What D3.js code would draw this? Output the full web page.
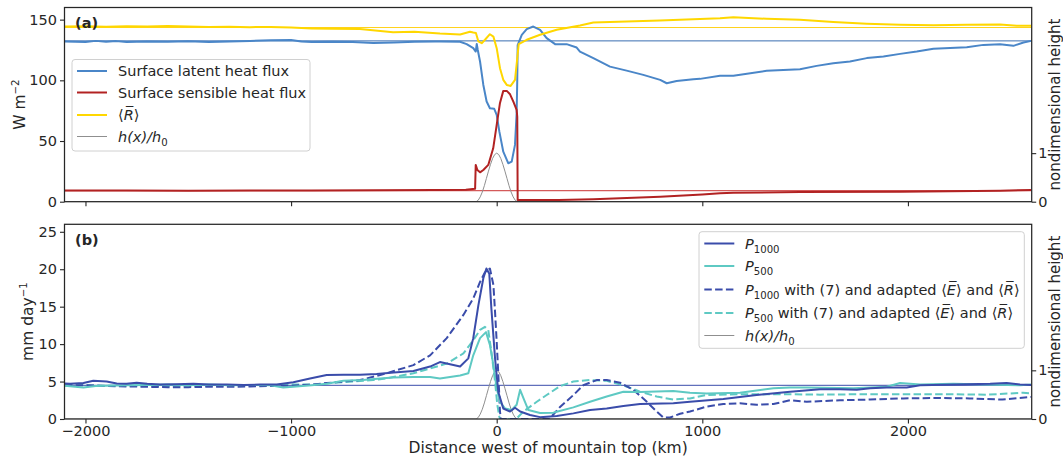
<!DOCTYPE html>
<html><head><meta charset="utf-8">
<script src="https://cdn.jsdelivr.net/npm/d3@7"></script>
<style>
body{margin:0;background:#fff}
svg{display:block}
text{font-family:"DejaVu Sans",sans-serif;fill:#262626}
</style>
</head><body>
<svg id="c" width="1063" height="459"></svg>
<script>
// ---------------- DATA ----------------
const xTicks = [-2000, -1000, 0, 1000, 2000];
const yTicksA = [0, 50, 100, 150];
const yTicksB = [0, 5, 10, 15, 20, 25];
const hTicks = [0, 1];

// panel (a)
const latentX = [-2100,-2000,-1950,-1900,-1850,-1800,-1700,-1600,-1500,-1400,-1300,-1200,-1100,-1000,-950,-900,-800,-700,-600,-500,-400,-300,-276,-178,-146,-114,-102,-97,-92,-81,-65,-49,-33,-12,0,13,32,56,73,89,97,100,102,122,146,178,211,243,284,340,389,405,470,551,632,713,795,827,875,956,989,1086,1151,1313,1475,1556,1637,1718,1800,1881,1962,2043,2124,2286,2367,2448,2513,2562,2600];
const latentY = [132,131.5,132.5,131.8,132.3,131.5,132,131.8,132.2,131.5,132,132.5,133,133.3,132,131.5,131.8,131.5,130.8,131.2,131.8,132,132,131.8,129.8,126.5,123.7,130,125,115.5,96.2,82.5,77,76.5,71.5,57.7,41.2,31.7,33,46.8,73,100,129,137.5,142.2,144.3,141.6,134.8,129.8,129.8,127,123.7,118.3,111.3,108,104.5,100.4,97.6,99.5,100.9,101.2,103.7,103.7,107.8,109.2,111.9,114.1,115.5,118.3,119.6,121.8,123.7,126,127.3,129.2,129.8,128.4,131.2,132.5];

const sensibleX = [-2100,-1800,-1500,-1200,-900,-600,-300,-150,-105,-102,-94,-81,-65,-41,-17,0,16,32,49,65,81,97,100,102,300,470,600,795,1000,1086,1151,1475,1962,2448,2600];
const sensibleY = [9.2,9.3,9.1,9.3,9.2,9.4,9.6,9.8,10.6,30.3,26.1,24.2,26.1,30.3,44,63.3,81.4,91.3,91.3,88.5,82.4,75.6,70,1.4,1.5,2,2.8,4.1,6,6.9,7.4,8,8.3,9.1,9.6];

const radX = [-2100,-2000,-1900,-1800,-1700,-1600,-1500,-1400,-1300,-1200,-1100,-1000,-900,-800,-665,-504,-400,-276,-178,-130,-114,-101,-89,-73,-57,-33,-16,0,16,32,49,68,89,100,107,146,211,292,405,470,632,794,956,1086,1151,1313,1475,1637,1800,1962,2124,2286,2448,2529,2600];
const radY = [144.3,144.5,144.2,144.6,144.4,144.8,144.3,144,144.2,143.8,144,143.5,142.8,142.5,142.2,139.7,140,138.5,137.8,140,139.4,139,132,130.6,133.4,138,136,126.5,110,100.4,96.2,95.4,100.4,118,129.8,133.4,137.5,141.6,145.2,147.6,148.5,149.3,150.4,151.2,152,150.7,149.9,148,146.6,145.7,145.4,145.7,145.9,144.9,145];

const hX = [-2100,-100,-90,-80,-70,-60,-50,-40,-30,-20,-10,0,10,20,30,40,50,60,70,80,90,100,2600];
const hY = [0,0,0.03,0.1,0.2,0.33,0.48,0.63,0.77,0.89,0.97,1,0.97,0.89,0.77,0.63,0.48,0.33,0.2,0.1,0.03,0,0];

const refA = {latent:132.5, sensible:9.1, rad:143.5};

// panel (b)
const p1000X = [-2100,-2075,-2010,-1962,-1897,-1848,-1800,-1751,-1700,-1637,-1560,-1475,-1400,-1313,-1230,-1151,-1070,-989,-908,-827,-746,-665,-584,-500,-405,-324,-276,-227,-178,-138,-114,-89,-65,-50,-36,-26,-8,8,32,65,89,114,162,211,243,292,373,454,535,616,697,859,940,1102,1264,1427,1573,1670,1751,1816,1897,1994,2059,2237,2400,2480,2545,2600];
const p1000Y = [4.75,4.7,4.8,5.1,5.0,4.75,4.7,4.85,4.7,4.6,4.65,4.7,4.6,4.6,4.55,4.6,4.6,4.9,5.4,5.87,5.9,5.9,6.0,6.2,6.4,7.0,7.6,7.3,7.0,8.1,10.8,15.2,18.8,20.1,19.4,14.8,8.1,3.6,1.4,1.0,1.5,1.0,0.53,0.25,0.3,0.4,0.75,1.2,1.4,1.73,2.0,2.1,2.3,2.67,3.2,3.65,3.96,3.96,3.9,4.1,4.2,4.2,4.5,4.6,4.7,4.8,4.6,4.55];

const p500X = [-2100,-2050,-2010,-1950,-1900,-1800,-1700,-1600,-1500,-1400,-1300,-1200,-1100,-1038,-990,-900,-827,-746,-650,-567,-503,-405,-324,-276,-178,-138,-114,-81,-52,-33,-16,0,16,41,73,97,114,130,154,211,276,292,373,454,535,616,697,859,940,1021,1183,1346,1427,1508,1735,1897,1962,2059,2221,2383,2545,2600];
const p500Y = [4.45,4.3,4.2,4.4,4.45,4.5,4.55,4.6,4.5,4.6,4.5,4.55,4.5,4.2,4.3,4.5,4.7,5.1,5.2,5.4,5.55,5.6,5.6,5.4,5.8,6.1,8.5,10.8,11.6,9.9,7.2,4.1,2.3,1.4,1.2,1.9,3.9,2.8,1.2,0.8,0.85,0.98,1.55,2.3,3.0,3.65,3.6,3.73,3.5,3.4,3.5,4.1,4.2,4.2,4.1,4.3,4.8,4.6,4.7,4.6,4.5,4.6];

const p1000dX = [-2100,-2000,-1900,-1800,-1700,-1600,-1500,-1400,-1300,-1200,-1100,-1000,-900,-827,-665,-567,-500,-405,-324,-243,-162,-114,-81,-57,-33,-16,-8,0,8,16,20,255,259,308,373,421,486,535,600,665,730,778,810,843,892,940,1021,1102,1183,1264,1346,1427,1508,1670,1816,1978,2140,2300,2460,2600];
const p1000dY = [4.5,4.5,4.4,4.35,4.3,4.25,4.25,4.3,4.3,4.35,4.4,4.45,4.6,4.8,5.2,5.87,6.4,7.2,8.5,10.8,13.9,16.1,18.3,19.6,20.1,17.9,14.3,10.3,5.9,1.0,0,0,0.1,1.6,3.2,4.5,5.2,5.2,4.85,3.9,2.3,1.0,0.2,0.2,0.7,1.0,1.65,2.0,2.1,1.9,2.0,2.5,2.3,2.5,2.6,2.75,2.8,2.75,2.6,2.95];

const p500dX = [-2100,-2000,-1900,-1800,-1700,-1600,-1500,-1400,-1300,-1200,-1100,-1000,-900,-827,-700,-600,-567,-503,-405,-324,-243,-162,-114,-81,-57,-41,-26,-8,3,13,16,95,97,130,195,243,308,373,454,535,616,697,778,859,940,1021,1183,1427,1573,1735,1913,2059,2221,2383,2560,2600];
const p500dY = [4.5,4.5,4.45,4.4,4.45,4.4,4.45,4.4,4.45,4.5,4.5,4.6,4.6,4.75,5.0,5.2,5.3,5.6,6.1,6.75,7.4,8.75,10.5,11.9,12.3,11.9,9.0,5.0,1.9,0.3,0,0,0.05,1.0,2.3,3.2,4.4,5.0,5.2,5.1,4.5,3.65,3.0,2.6,2.75,3.2,3.3,3.3,3.25,3.3,3.3,3.3,3.3,3.25,3.5,3.4];

const refB = 4.5;

// ---------------- LAYOUT ----------------
const L = 64.5, R = 1031.7;
const A = {top: 7.5, bot: 201.7};
const B = {top: 224.3, bot: 419};
const FS = 14.5;
const INK = "#262626";

const C = {
  latent: "#4a86c8", sensible: "#b22222", rad: "#ffd700", h: "#8f8f8f",
  p1000: "#3a4caa", p500: "#5ec9c3",
  refLatent: "#3a6db0", refSensible: "#d45a5a", refRad: "#ffd21a"
};

const svg = d3.select("#c");
const x = d3.scaleLinear().domain([-2102, 2602]).range([L, R]);
const yA = d3.scaleLinear().domain([0, 160]).range([A.bot, A.top]);
const hA = d3.scaleLinear().domain([0, 4]).range([A.bot, A.top]);
const yB = d3.scaleLinear().domain([0, 26]).range([B.bot, B.top]);
const hB = d3.scaleLinear().domain([0, 4]).range([B.bot, B.top]);
const fmt = d3.format("d");

const defs = svg.append("defs");
[["clipA", A], ["clipB", B]].forEach(([id, P]) => {
  defs.append("clipPath").attr("id", id).append("rect")
    .attr("x", L).attr("y", P.top).attr("width", R - L).attr("height", P.bot - P.top);
});

function series(g, xs, ys, ys_scale, color, width, dash) {
  const pts = xs.map((v, i) => [v, ys[i]]);
  const line = d3.line().x(d => x(d[0])).y(d => ys_scale(d[1]));
  const p = g.append("path").datum(pts).attr("d", line)
    .attr("fill", "none").attr("stroke", color).attr("stroke-width", width)
    .attr("stroke-linejoin", "round");
  if (dash) p.attr("stroke-dasharray", dash);
  return p;
}
function hline(g, v, scale, color, width) {
  g.append("line").attr("x1", L).attr("x2", R).attr("y1", scale(v)).attr("y2", scale(v))
    .attr("stroke", color).attr("stroke-width", width);
}

function rich(t, segs) {
  segs.forEach(s => {
    const ts = t.append("tspan").text(s.t);
    if (s.i) ts.attr("font-style", "italic");
    if (s.sub) { ts.attr("font-size", FS * 0.7).attr("dy", 4); }
    if (s.sup) { ts.attr("font-size", FS * 0.7).attr("dy", -6); }
    if (s.back) ts.attr("dy", s.back);
  });
}

function styleAxis(g) {
  g.select(".domain").remove();
  g.selectAll(".tick line").attr("stroke", INK).attr("stroke-width", 1.1);
  g.selectAll(".tick text").attr("fill", INK).attr("font-size", FS)
    .attr("font-family", "DejaVu Sans");
}

// ---------------- PANEL A ----------------
const gA = svg.append("g");
const cA = gA.append("g").attr("clip-path", "url(#clipA)");
hline(cA, refA.rad, yA, C.refRad, 1);
hline(cA, refA.latent, yA, C.refLatent, 1);
hline(cA, refA.sensible, yA, C.refSensible, 1.2);
series(cA, hX, hY, hA, C.h, 1);
series(cA, latentX, latentY, yA, C.latent, 2);
series(cA, sensibleX, sensibleY, yA, C.sensible, 2);
series(cA, radX, radY, yA, C.rad, 2);

gA.append("g").attr("transform", `translate(${L},0)`)
  .call(d3.axisLeft(yA).tickValues(yTicksA).tickFormat(fmt).tickSize(4.5).tickPadding(3)).call(styleAxis);
gA.append("g").attr("transform", `translate(${R},0)`)
  .call(d3.axisRight(hA).tickValues(hTicks).tickFormat(fmt).tickSize(4.5).tickPadding(2)).call(styleAxis);
gA.append("g").attr("transform", `translate(0,${A.bot})`)
  .call(d3.axisBottom(x).tickValues(xTicks).tickSize(4.5).tickFormat("")).call(styleAxis);
gA.append("rect").attr("x", L).attr("y", A.top).attr("width", R - L).attr("height", A.bot - A.top)
  .attr("fill", "none").attr("stroke", INK).attr("stroke-width", 1.25);

gA.append("text").attr("x", 75).attr("y", 27.5).attr("font-weight", "bold").attr("font-size", FS).text("(a)");

// legend A
const legA = gA.append("g");
legA.append("rect").attr("x", 72).attr("y", 59.5).attr("width", 238).attr("height", 91.5)
  .attr("rx", 3).attr("fill", "#fff").attr("fill-opacity", 0.85).attr("stroke", "#d0d0d0");
const legAItems = [
  {c: C.latent, w: 2, segs: [{t: "Surface latent heat flux"}]},
  {c: C.sensible, w: 2, segs: [{t: "Surface sensible heat flux"}]},
  {c: C.rad, w: 2, segs: [{t: "⟨"}, {t: "R\u0305", i: true}, {t: "⟩"}]},
  {c: C.h, w: 1, segs: [{t: "h(x)/h", i: true}, {t: "0", sub: true}]}
];
const legAY = [71, 92.5, 115, 136.5];
legAItems.forEach((it, i) => {
  const yy = legAY[i];
  legA.append("line").attr("x1", 77).attr("x2", 107).attr("y1", yy).attr("y2", yy)
    .attr("stroke", it.c).attr("stroke-width", it.w);
  const t = legA.append("text").attr("x", 118).attr("y", yy + 5).attr("font-size", FS);
  rich(t, it.segs);
});

// axis labels A
const ylA = svg.append("text").attr("transform", `translate(25,${(A.top + A.bot) / 2}) rotate(-90)`)
  .attr("text-anchor", "middle").attr("font-size", 15.5);
rich(ylA, [{t: "W m"}, {t: "−2", sup: true}]);
svg.append("text").attr("transform", `translate(1060,${(A.top + A.bot) / 2}) rotate(-90)`)
  .attr("text-anchor", "middle").attr("font-size", 15).text("nondimensional height");

// ---------------- PANEL B ----------------
const gB = svg.append("g");
const cB = gB.append("g").attr("clip-path", "url(#clipB)");
hline(cB, refB, yB, C.p1000, 1);
series(cB, hX, hY, hB, C.h, 1);
series(cB, p500dX, p500dY, yB, C.p500, 2, "7.5,3.3");
series(cB, p1000dX, p1000dY, yB, C.p1000, 2, "7.5,3.3");
series(cB, p500X, p500Y, yB, C.p500, 2);
series(cB, p1000X, p1000Y, yB, C.p1000, 2);

gB.append("g").attr("transform", `translate(${L},0)`)
  .call(d3.axisLeft(yB).tickValues(yTicksB).tickFormat(fmt).tickSize(4.5).tickPadding(3)).call(styleAxis);
gB.append("g").attr("transform", `translate(${R},0)`)
  .call(d3.axisRight(hB).tickValues(hTicks).tickFormat(fmt).tickSize(4.5).tickPadding(2)).call(styleAxis);
gB.append("g").attr("transform", `translate(0,${B.bot})`)
  .call(d3.axisBottom(x).tickValues(xTicks).tickFormat(fmt).tickSize(4.5).tickPadding(2)).call(styleAxis);
gB.append("rect").attr("x", L).attr("y", B.top).attr("width", R - L).attr("height", B.bot - B.top)
  .attr("fill", "none").attr("stroke", INK).attr("stroke-width", 1.25);

gB.append("text").attr("x", 75).attr("y", 244.5).attr("font-weight", "bold").attr("font-size", FS).text("(b)");

// legend B
const legB = gB.append("g");
legB.append("rect").attr("x", 699).attr("y", 231.7).attr("width", 325.3).attr("height", 116.6)
  .attr("rx", 3).attr("fill", "#fff").attr("fill-opacity", 0.85).attr("stroke", "#d0d0d0");
const adapted = [{t: " with (7) and adapted ⟨", back: -4}, {t: "E\u0305", i: true}, {t: "⟩ and ⟨"}, {t: "R\u0305", i: true}, {t: "⟩"}];
const legBItems = [
  {c: C.p1000, w: 2, d: null, segs: [{t: "P", i: true}, {t: "1000", sub: true}]},
  {c: C.p500, w: 2, d: null, segs: [{t: "P", i: true}, {t: "500", sub: true}]},
  {c: C.p1000, w: 2, d: "7.5,3.3", segs: [{t: "P", i: true}, {t: "1000", sub: true}].concat(adapted)},
  {c: C.p500, w: 2, d: "7.5,3.3", segs: [{t: "P", i: true}, {t: "500", sub: true}].concat(adapted)},
  {c: C.h, w: 1, d: null, segs: [{t: "h(x)/h", i: true}, {t: "0", sub: true}]}
];
const legBY = [243.5, 266, 289.5, 313, 335.5];
legBItems.forEach((it, i) => {
  const yy = legBY[i];
  const ln = legB.append("line").attr("x1", 704.3).attr("x2", 734.3).attr("y1", yy).attr("y2", yy)
    .attr("stroke", it.c).attr("stroke-width", it.w);
  if (it.d) ln.attr("stroke-dasharray", it.d);
  const t = legB.append("text").attr("x", 745).attr("y", yy + 5).attr("font-size", FS);
  rich(t, it.segs);
});

// axis labels B
const ylB = svg.append("text").attr("transform", `translate(33,${(B.top + B.bot) / 2}) rotate(-90)`)
  .attr("text-anchor", "middle").attr("font-size", 15.5);
rich(ylB, [{t: "mm day"}, {t: "−1", sup: true}]);
svg.append("text").attr("transform", `translate(1060,${(B.top + B.bot) / 2}) rotate(-90)`)
  .attr("text-anchor", "middle").attr("font-size", 15).text("nondimensional height");
svg.append("text").attr("x", (L + R) / 2).attr("y", 453).attr("text-anchor", "middle")
  .attr("font-size", 15.5).text("Distance west of mountain top (km)");
</script>
</body></html>
